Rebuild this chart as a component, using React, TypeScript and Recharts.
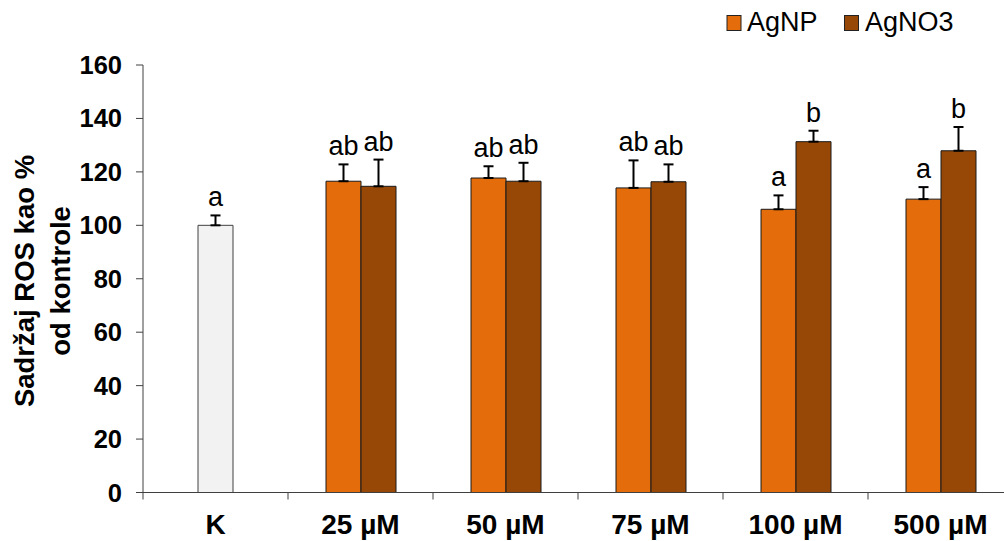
import React from 'react';
import { BarChart, Bar, XAxis, YAxis, ErrorBar, LabelList, Legend } from 'recharts';

const categories = ['K', '25 µM', '50 µM', '75 µM', '100 µM', '500 µM'];

const controlValues = [100, null, null, null, null, null];
const controlErrors = [3.7, null, null, null, null, null];
const controlLetters = ['a', '', '', '', '', ''];

const agnpValues = [null, 116.5, 117.7, 114.0, 106.0, 109.8];
const agnpErrors = [null, 6.3, 4.4, 10.3, 5.2, 4.5];
const agnpLetters = ['', 'ab', 'ab', 'ab', 'a', 'a'];

const agno3Values = [null, 114.6, 116.5, 116.3, 131.3, 127.9];
const agno3Errors = [null, 10.0, 6.9, 6.5, 4.1, 8.9];
const agno3Letters = ['', 'ab', 'ab', 'ab', 'b', 'b'];

const seriesNames = ['AgNP', 'AgNO3'];
const yTicks = [0, 20, 40, 60, 80, 100, 120, 140, 160];
const yTitleLines = ['Sadržaj ROS kao %', 'od kontrole'];

const COLORS = { control: '#F2F2F2', agnp: '#E46C0A', agno3: '#974806' };
const FONT = '"Liberation Sans", Arial, Helvetica, sans-serif';

const data = categories.map((cat, i) => ({
  cat,
  control: controlValues[i],
  controlErr: controlErrors[i] == null ? undefined : [0, controlErrors[i]],
  agnp: agnpValues[i],
  agnpErr: agnpErrors[i] == null ? undefined : [0, agnpErrors[i]],
  agno3: agno3Values[i],
  agno3Err: agno3Errors[i] == null ? undefined : [0, agno3Errors[i]],
}));

const makeLabel = (values: any[], errors: any[], letters: string[]) => (props: any) => {
  const { x, y, width, height, value } = props;
  const i = values.findIndex((v) => v != null && v === Number(value));
  if (i < 0) return null;
  const v = values[i];
  const e = errors[i];
  const l = letters[i];
  if (!l) return null;
  const errPx = (e ?? 0) * (Number(height) / v);
  return (
    <text
      key={`lbl-${i}`}
      x={Number(x) + Number(width) / 2}
      y={Number(y) - errPx - 9}
      textAnchor="middle"
      fontSize={27}
      fontFamily={FONT}
      fill="#000"
    >
      {l}
    </text>
  );
};

const XTick = (props: any) => {
  const { x, y, payload } = props;
  const off = payload && payload.offset != null ? payload.offset : 72.5;
  return (
    <g>
      <line x1={x - off} x2={x - off} y1={y} y2={y + 7} stroke="#404040" strokeWidth={1} />
      <text x={x} y={y + 41} textAnchor="middle" fontSize={28} fontWeight="bold" fontFamily={FONT} fill="#000">
        {payload.value}
      </text>
    </g>
  );
};

const renderLegend = () => (
  <svg width={1004} height={45} style={{ display: 'block' }}>
    <rect x={727} y={15.5} width={14} height={15} fill={COLORS.agnp} stroke="#222" strokeWidth={1} />
    <text x={747} y={31} fontSize={27} fontFamily={FONT} fill="#000">{seriesNames[0]}</text>
    <rect x={844.5} y={15.5} width={14} height={15} fill={COLORS.agno3} stroke="#222" strokeWidth={1} />
    <text x={865} y={31} fontSize={27} fontFamily={FONT} fill="#000">{seriesNames[1]}</text>
  </svg>
);

const renderTitle = () => (
  <g>
    <text
      x={33.5}
      y={281}
      transform="rotate(-90, 33.5, 281)"
      textAnchor="middle"
      fontSize={27.5}
      fontWeight="bold"
      fontFamily={FONT}
      fill="#000"
    >
      {yTitleLines[0]}
    </text>
    <text
      x={70}
      y={281}
      transform="rotate(-90, 70, 281)"
      textAnchor="middle"
      fontSize={27.5}
      fontWeight="bold"
      fontFamily={FONT}
      fill="#000"
    >
      {yTitleLines[1]}
    </text>
  </g>
);

export default function App() {
  return (
    <div style={{ position: 'absolute', left: 0, top: 0, width: 1004, height: 541, overflow: 'hidden', background: '#fff' }}>
      <BarChart
        width={1030}
        height={541}
        data={data}
        margin={{ top: 65, right: 17, bottom: 0, left: 0 }}
        barGap={0}
      >
        <XAxis
          xAxisId="main"
          dataKey="cat"
          type="category"
          interval={0}
          height={48.5}
          tickSize={0}
          tickMargin={0}
          tickLine={false}
          axisLine={{ stroke: '#404040', strokeWidth: 1 }}
          tick={<XTick />}
        />
        <XAxis xAxisId="ctrl" dataKey="cat" type="category" orientation="top" height={0} hide />
        <YAxis
          width={143}
          domain={[0, 160]}
          ticks={yTicks}
          interval={0}
          tickSize={7}
          tickMargin={14}
          axisLine={{ stroke: '#404040', strokeWidth: 1 }}
          tickLine={{ stroke: '#404040', strokeWidth: 1 }}
          tick={{ fontSize: 25.5, fontWeight: 'bold', fontFamily: FONT, fill: '#000' }}
          label={{ content: renderTitle }}
        />
        <Legend
          content={renderLegend}
          layout="horizontal"
          verticalAlign="middle"
          align="center"
          wrapperStyle={{ position: 'absolute', top: 0, left: 0, width: 1004, height: 45 }}
        />
        <Bar
          xAxisId="ctrl"
          dataKey="control"
          name="K"
          barSize={35}
          fill={COLORS.control}
          stroke="#404040"
          strokeWidth={1}
          isAnimationActive={false}
          legendType="none"
        >
          <ErrorBar dataKey="controlErr" width={5} strokeWidth={2} stroke="#000" direction="y" />
          <LabelList dataKey="control" content={makeLabel(controlValues, controlErrors, controlLetters)} />
        </Bar>
        <Bar
          xAxisId="main"
          dataKey="agnp"
          name={seriesNames[0]}
          barSize={35}
          fill={COLORS.agnp}
          stroke="#1a1a1a"
          strokeWidth={1}
          isAnimationActive={false}
        >
          <ErrorBar dataKey="agnpErr" width={5} strokeWidth={2} stroke="#000" direction="y" />
          <LabelList dataKey="agnp" content={makeLabel(agnpValues, agnpErrors, agnpLetters)} />
        </Bar>
        <Bar
          xAxisId="main"
          dataKey="agno3"
          name={seriesNames[1]}
          barSize={35}
          fill={COLORS.agno3}
          stroke="#1a1a1a"
          strokeWidth={1}
          isAnimationActive={false}
        >
          <ErrorBar dataKey="agno3Err" width={5} strokeWidth={2} stroke="#000" direction="y" />
          <LabelList dataKey="agno3" content={makeLabel(agno3Values, agno3Errors, agno3Letters)} />
        </Bar>
      </BarChart>
    </div>
  );
}
